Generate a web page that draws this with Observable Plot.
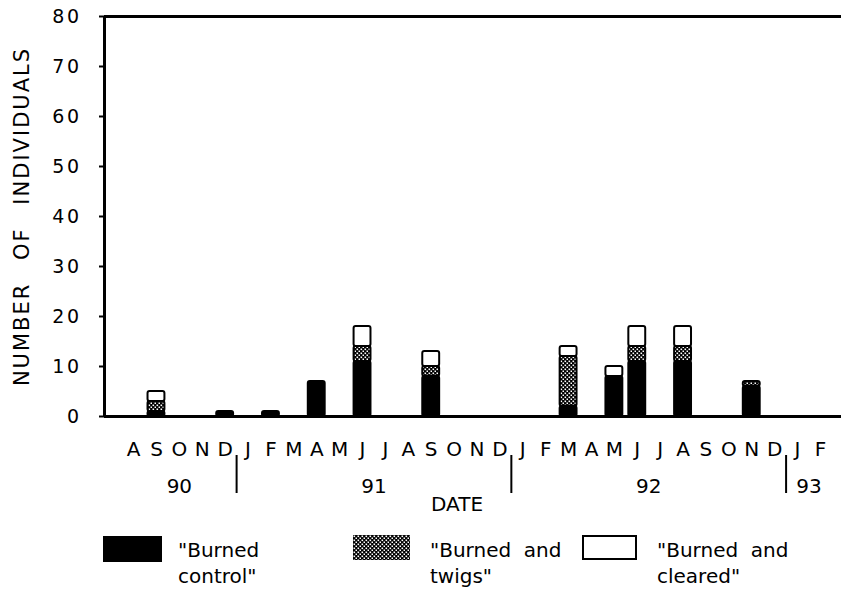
<!DOCTYPE html>
<html>
<head>
<meta charset="utf-8">
<script src="https://cdn.jsdelivr.net/npm/d3@7"></script>
<script src="https://cdn.jsdelivr.net/npm/@observablehq/plot@0.6"></script>
<style>
  body { margin: 0; background: #fff; font-family: "DejaVu Sans", sans-serif; color: #000; }
  #wrap { position: relative; width: 841px; height: 591px; overflow: hidden; }
  #chart { position: absolute; left: 0; top: 0; }
  .box { position: absolute; box-sizing: border-box; }
  .lt { position: absolute; font-size: 20px; line-height: 26px; white-space: pre; }
  svg [aria-label="y-axis tick label"] text { letter-spacing: 2.5px; }
  svg text[aria-label="ytitle"] { letter-spacing: 2px; word-spacing: 14px; }
  svg text[aria-label="year-label"] { letter-spacing: 2px; }
</style>
</head>
<body>
<svg width="0" height="0" style="position:absolute">
  <defs>
    <pattern id="stipple" width="4" height="4" patternUnits="userSpaceOnUse">
      <rect width="4" height="4" fill="#000"></rect>
      <rect x="0.5" y="0.5" width="1.6" height="1.6" fill="#fff"></rect>
      <rect x="2.5" y="2.5" width="1.6" height="1.6" fill="#fff"></rect>
    </pattern>
  </defs>
</svg>
<div id="wrap">
  <div id="chart"></div>
  <div class="box" style="left:103px;top:536px;width:59px;height:26px;background:#000"></div>
  <div class="lt" style="left:178px;top:537px">"Burned
control"</div>
  <svg class="box" style="left:353px;top:535px" width="57" height="25"><rect width="57" height="25" fill="url(#stipple)"></rect></svg>
  <div class="lt" style="left:430px;top:537px">"Burned  and
twigs"</div>
  <div class="box" style="left:582px;top:535px;width:55px;height:25px;border:2px solid #000;background:#fff"></div>
  <div class="lt" style="left:657px;top:537px">"Burned  and
cleared"</div>
</div>
<script>
// Month letters from Aug 1990 to Feb 1993
const months = ["A","S","O","N","D",
  "J","F","M","A","M","J","J","A","S","O","N","D",
  "J","F","M","A","M","J","J","A","S","O","N","D",
  "J","F"];
const seriesNames = ["Burned control", "Burned and twigs", "Burned and cleared"];
const burnedControl = [0,1,0,0,1, 0,1,0,7,0,11,0,0,8,0,0,0, 0,0,2,0,8,11,0,11,0,0,6,0, 0,0];
const burnedTwigs   = [0,2,0,0,0, 0,0,0,0,0,3,0,0,2,0,0,0, 0,0,10,0,0,3,0,3,0,0,1,0, 0,0];
const burnedCleared = [0,2,0,0,0, 0,0,0,0,0,4,0,0,3,0,0,0, 0,0,2,0,2,4,0,4,0,0,0,0, 0,0];
const yearLabels = ["90","91","92","93"];
const yearStart = [0,5,17,29];
const yearEnd = [4,16,28,30];
const yTicks = [0,10,20,30,40,50,60,70,80];

const fills = ["#000", "url(#stipple)", "#fff"];
const seriesValues = [burnedControl, burnedTwigs, burnedCleared];
const rows = [];
months.forEach((m, i) => {
  seriesValues.forEach((vals, s) => {
    if (vals[i] > 0) rows.push({i, series: seriesNames[s], value: vals[i]});
  });
});
const monthIdx = months.map((m, i) => i);
const yearMids = yearStart.map((s, k) => (s + yearEnd[k]) / 2);
const dividers = yearStart.slice(1).map(s => s - 0.5);
const xDomain = [-1.27, 30.92];

const chart = Plot.plot({
  width: 841,
  height: 526,
  marginLeft: 104,
  marginRight: 0,
  marginTop: 16,
  marginBottom: 110,
  style: {fontFamily: "DejaVu Sans", fontSize: "20px", color: "#000", background: "#fff", overflow: "visible"},
  x: {domain: xDomain, axis: null},
  y: {domain: [0, 80], axis: null},
  color: {domain: seriesNames, range: fills},
  marks: [
    Plot.rectY(rows, {
      x1: d => d.i - 0.5, x2: d => d.i + 0.5, y: "value", fill: "series",
      stroke: "#000", strokeWidth: 2, insetLeft: 3, insetRight: 3, rx: 2
    }),
    Plot.ruleY([0], {stroke: "#000", strokeWidth: 3}),
    Plot.ruleY([80], {stroke: "#000", strokeWidth: 3}),
    Plot.ruleX([xDomain[0]], {stroke: "#000", strokeWidth: 3}),
    Plot.axisY({ticks: yTicks, tickSize: 5, tickPadding: 18, fontSize: 19, strokeWidth: 2, label: null}),
    Plot.axisX({ticks: monthIdx, tickFormat: i => months[i], tickSize: 0, tickPadding: 25, label: null}),
    Plot.axisX({ticks: yearMids, tickFormat: d => yearLabels[yearMids.indexOf(d)], tickSize: 0, tickPadding: 62, label: null, ariaLabel: () => "year-label"}),
    Plot.axisX({ticks: dividers, tickSize: 38, dy: 39, fill: "none", strokeWidth: 2, label: null}),
    Plot.text(["DATE"], {frameAnchor: "bottom", dy: 94, dx: -16, fontSize: 20}),
    Plot.text(["NUMBER OF INDIVIDUALS"], {frameAnchor: "left", textAnchor: "middle", lineAnchor: "middle", rotate: -90, dx: -82, fontSize: 21, ariaLabel: () => "ytitle"})
  ]
});
document.getElementById("chart").appendChild(chart);
</script>
</body>
</html>
